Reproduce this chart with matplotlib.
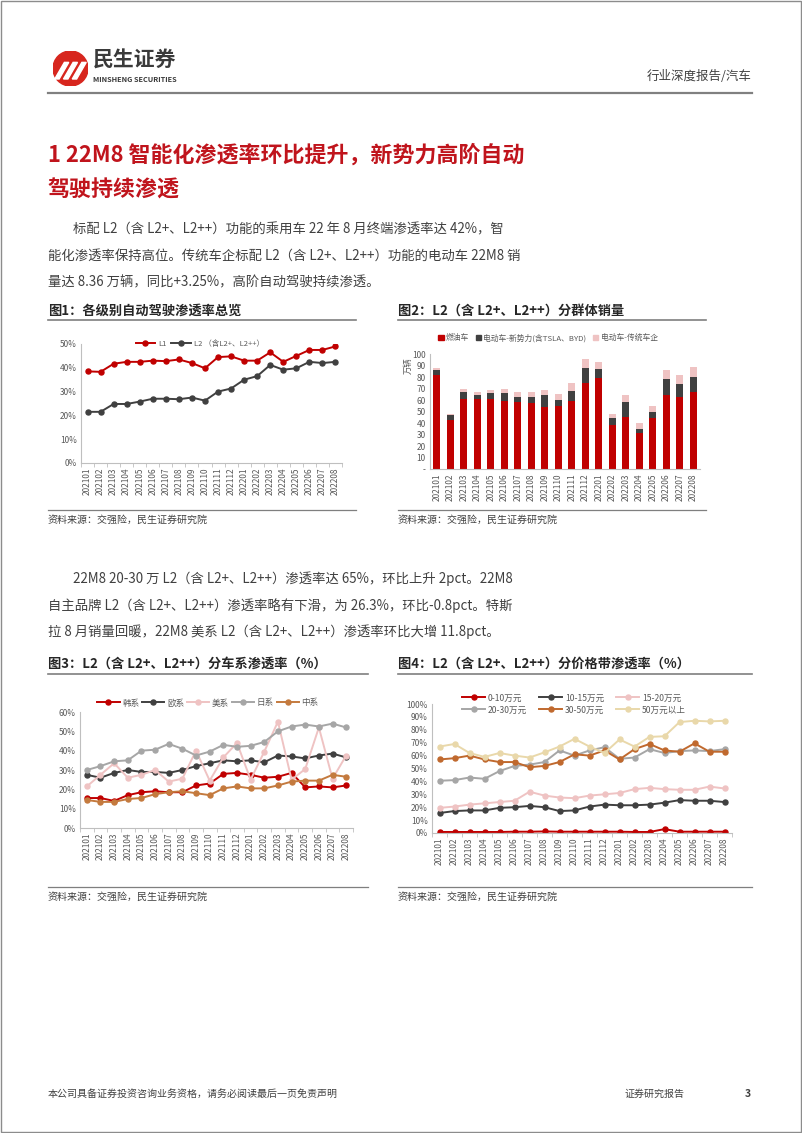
import matplotlib
matplotlib.use('Agg')
import matplotlib.pyplot as plt
from matplotlib.patches import Rectangle, Circle, Polygon, Patch
from matplotlib.lines import Line2D

plt.rcParams['font.family'] = ['Noto Sans CJK SC', 'DejaVu Sans']

W, H = 802, 1133

months = ['202101', '202102', '202103', '202104', '202105', '202106', '202107',
          '202108', '202109', '202110', '202111', '202112', '202201', '202202',
          '202203', '202204', '202205', '202206', '202207', '202208']

# 图1
l1 = [38.5, 38.3, 41.7, 42.5, 42.5, 43.0, 42.8, 43.5, 42.0, 39.8,
      44.5, 44.8, 43.0, 43.0, 46.5, 42.5, 45.0, 47.5, 47.5, 49.0]
l2 = [21.5, 21.5, 24.8, 24.8, 25.8, 27.0, 27.0, 26.8, 27.5, 26.2,
      30.0, 31.3, 35.0, 36.5, 41.2, 39.2, 39.8, 42.5, 42.0, 42.5]

# 图2 (万辆)
fuel = [82, 43, 61, 61, 61, 59, 58, 57, 54, 55, 59, 75, 79, 38, 45, 31, 44, 64, 63, 67]
ev_new = [4, 4, 6, 3, 5, 7, 5, 6, 10, 5, 9, 13, 8, 6, 13, 4, 6, 14, 11, 13]
ev_old = [2, 1, 3, 3, 3, 4, 4, 4, 5, 5, 7, 8, 6, 4, 6, 5, 5, 8, 8, 9]

# 图3
kr = [15.5, 15.5, 14.0, 17.0, 18.5, 19.0, 18.5, 18.5, 22.0, 23.0,
      28.0, 28.5, 27.5, 26.0, 26.5, 28.5, 21.0, 21.5, 21.0, 22.0]
eu = [27.5, 26.0, 28.5, 30.0, 29.0, 29.0, 28.5, 30.0, 32.0, 33.5,
      35.0, 34.5, 35.0, 34.0, 37.5, 37.0, 36.0, 37.5, 38.5, 36.5]
us = [21.5, 27.5, 33.5, 26.0, 27.5, 30.0, 24.0, 25.5, 40.0, 24.5,
      36.5, 44.0, 25.0, 39.5, 55.0, 25.0, 30.5, 52.0, 25.5, 37.5]
jp = [30.0, 32.0, 34.5, 35.0, 40.0, 40.5, 43.5, 41.0, 37.5, 39.5,
      43.0, 42.0, 42.5, 44.5, 50.0, 52.5, 53.5, 52.5, 54.0, 52.0]
cn = [14.5, 13.5, 13.5, 15.0, 15.5, 17.5, 18.5, 19.0, 18.0, 17.0,
      20.5, 21.5, 20.5, 20.5, 22.0, 24.0, 24.5, 24.5, 27.5, 26.5]

# 图4
p0_10 = [0.8, 0.8, 0.8, 0.8, 0.8, 1.0, 1.0, 1.2, 1.0, 1.0,
         1.0, 1.0, 1.0, 0.8, 0.8, 3.0, 1.0, 1.0, 1.0, 1.0]
p10_15 = [15.5, 17.0, 17.5, 17.5, 19.5, 20.0, 21.0, 20.0, 17.0, 17.5,
          20.5, 22.0, 21.5, 21.5, 22.0, 23.5, 25.5, 25.0, 25.0, 24.0]
p15_20 = [19.5, 20.5, 22.0, 23.0, 24.0, 25.0, 32.0, 29.0, 27.5, 27.0,
          29.0, 30.0, 31.0, 34.0, 35.0, 34.0, 33.5, 33.5, 36.0, 34.5]
p20_30 = [40.5, 41.0, 43.0, 42.0, 48.0, 52.0, 53.0, 55.0, 64.0, 60.0,
          64.0, 66.5, 57.5, 58.5, 65.0, 62.0, 63.5, 64.0, 63.5, 65.0]
p30_50 = [57.0, 58.0, 60.0, 57.0, 55.0, 55.0, 51.0, 52.0, 55.0, 61.0,
          60.0, 64.0, 57.0, 65.0, 69.0, 64.0, 63.0, 69.5, 63.0, 63.0]
p50 = [67.0, 69.0, 62.0, 59.0, 62.0, 60.0, 58.5, 62.5, 67.0, 73.0,
       67.0, 62.0, 72.5, 67.0, 74.5, 75.0, 86.0, 87.0, 86.5, 87.0]

RED = '#C00000'
DARK = '#404040'
PINK = '#EFC3C3'
GRAY = '#A6A6A6'
ORANGE = '#C47A3E'
BROWN = '#C0692E'
BEIGE = '#E9D8AA'
TXT = '#595959'

fig = plt.figure(figsize=(W / 100, H / 100), dpi=100)


def ptext(x, y, s, **kw):
    kw.setdefault('va', 'center')
    return fig.text(x / W, 1 - y / H, s, **kw)


def hline(x0, x1, y, color='#808080', lw=1.0):
    fig.add_artist(Line2D([x0 / W, x1 / W], [1 - y / H, 1 - y / H], color=color, lw=lw))


def ax_px(x0, y0, x1, y1):
    return fig.add_axes([x0 / W, 1 - y1 / H, (x1 - x0) / W, (y1 - y0) / H])


def style_axis(ax, ymax, step, pct=True, dash_zero=False):
    x = list(range(len(months)))
    ax.set_xlim(-0.5, len(months) - 0.5)
    ax.set_ylim(0, ymax)
    ax.set_xticks(x)
    ax.set_xticklabels(months, rotation=90, fontsize=6, color=TXT)
    ax.set_xticks([i - 0.5 for i in range(len(months) + 1)], minor=True)
    ax.tick_params(axis='x', which='major', length=0, pad=3)
    ax.tick_params(axis='x', which='minor', length=3, color='#BFBFBF')
    ticks = list(range(0, ymax + 1, step))
    ax.set_yticks(ticks)
    if pct:
        ax.set_yticklabels(['%d%%' % t for t in ticks])
    elif dash_zero:
        ax.set_yticklabels(['-'] + [str(t) for t in ticks[1:]])
    ax.tick_params(axis='y', length=0, labelsize=6, labelcolor=TXT, pad=3)
    for s in ['top', 'right']:
        ax.spines[s].set_visible(False)
    for s in ['left', 'bottom']:
        ax.spines[s].set_color('#BFBFBF')
        ax.spines[s].set_linewidth(0.8)


# page frame
fig.add_artist(Rectangle((0.001, 0.001), 0.998, 0.998, transform=fig.transFigure,
                         fill=False, edgecolor='#8C8C8C', lw=1.0))

# logo
lax = ax_px(53, 51, 88, 86)
lax.set_xlim(-1, 1)
lax.set_ylim(-1, 1)
lax.set_aspect('equal')
lax.axis('off')
lax.add_patch(Circle((0, 0), 1, color='#D7261E'))
for dx in [-0.55, -0.05, 0.45]:
    lax.add_patch(Polygon([[dx - 0.35, -0.6], [dx - 0.1, -0.6], [dx + 0.45, 0.35], [dx + 0.2, 0.35]],
                          closed=True, color='white'))
ptext(93, 60, '民生证券', fontsize=15, fontweight='bold', color='#3A3A3A')
ptext(93, 79, 'MINSHENG SECURITIES', fontsize=5.3, fontweight='bold', color='#3A3A3A')
ptext(752, 77, '行业深度报告/汽车', fontsize=9, color='#404040', ha='right')
hline(48, 752, 93, color='#808080', lw=1.6)

# section title
ptext(48, 155, '1 22M8 智能化渗透率环比提升，新势力高阶自动', fontsize=15.8, fontweight='bold', color='#C0141C')
ptext(48, 190, '驾驶持续渗透', fontsize=15.8, fontweight='bold', color='#C0141C')

body1 = ['标配 L2（含 L2+、L2++）功能的乘用车 22 年 8 月终端渗透率达 42%，智',
         '能化渗透率保持高位。传统车企标配 L2（含 L2+、L2++）功能的电动车 22M8 销',
         '量达 8.36 万辆，同比+3.25%，高阶自动驾驶持续渗透。']
for i, s in enumerate(body1):
    ptext(73 if i == 0 else 48, 229 + 26.5 * i, s, fontsize=9.6, color='#404040')

body2 = ['22M8 20-30 万 L2（含 L2+、L2++）渗透率达 65%，环比上升 2pct。22M8',
         '自主品牌 L2（含 L2+、L2++）渗透率略有下滑，为 26.3%，环比-0.8pct。特斯',
         '拉 8 月销量回暖，22M8 美系 L2（含 L2+、L2++）渗透率环比大增 11.8pct。']
for i, s in enumerate(body2):
    ptext(73 if i == 0 else 48, 579 + 26.5 * i, s, fontsize=9.6, color='#404040')

# figure titles, rules and sources
ptext(48, 311, '图1：各级别自动驾驶渗透率总览', fontsize=9.5, fontweight='bold', color='#262626')
ptext(398, 311, '图2：L2（含 L2+、L2++）分群体销量', fontsize=9.5, fontweight='bold', color='#262626')
ptext(48, 664, '图3：L2（含 L2+、L2++）分车系渗透率（%）', fontsize=9.5, fontweight='bold', color='#262626')
ptext(398, 664, '图4：L2（含 L2+、L2++）分价格带渗透率（%）', fontsize=9.5, fontweight='bold', color='#262626')
hline(48, 356, 320, color='#7F7F7F', lw=1.2)
hline(398, 706, 320, color='#7F7F7F', lw=1.2)
hline(48, 368, 674, color='#7F7F7F', lw=1.2)
hline(398, 752, 674, color='#7F7F7F', lw=1.2)
hline(48, 356, 510, color='#7F7F7F', lw=0.9)
hline(398, 706, 510, color='#7F7F7F', lw=0.9)
hline(48, 368, 887, color='#7F7F7F', lw=0.9)
hline(398, 752, 887, color='#7F7F7F', lw=0.9)
for x0, y0 in [(48, 520), (398, 520), (48, 897), (398, 897)]:
    ptext(x0, y0, '资料来源：交强险，民生证券研究院', fontsize=7.2, color='#404040')

x = list(range(len(months)))
lw = 1.4
ms = 3.6

# chart 1
ax1 = ax_px(81, 344, 342, 463)
style_axis(ax1, 50, 10)
a, = ax1.plot(x, l1, color=RED, lw=lw, marker='o', ms=ms, label='L1')
b, = ax1.plot(x, l2, color=DARK, lw=lw, marker='o', ms=ms, label='L2 （含L2+、L2++）')
ax1.legend(handles=[a, b], loc='center', bbox_to_anchor=(200 / W, 1 - 344 / H),
           bbox_transform=fig.transFigure, ncol=2, frameon=False, fontsize=5.5,
           handlelength=2.6, columnspacing=0.6, handletextpad=0.4, labelcolor=TXT)

# chart 2
ax2 = ax_px(430, 354, 700, 469)
style_axis(ax2, 100, 10, pct=False, dash_zero=True)
ax2.tick_params(axis='x', which='minor', length=0)
bw = 0.55
ax2.bar(x, fuel, bw, color=RED)
ax2.bar(x, ev_new, bw, bottom=fuel, color=DARK)
bot = [f + e for f, e in zip(fuel, ev_new)]
ax2.bar(x, ev_old, bw, bottom=bot, color=PINK)
ptext(408, 366, '万辆', fontsize=6, color=TXT, rotation=90, ha='center')
hs = [Patch(color=RED, label='燃油车'), Patch(color=DARK, label='电动车-新势力(含TSLA、BYD)'),
      Patch(color=PINK, label='电动车-传统车企')]
ax2.legend(handles=hs, loc='center', bbox_to_anchor=(548 / W, 1 - 338 / H),
           bbox_transform=fig.transFigure, ncol=3, frameon=False, fontsize=5.6,
           handlelength=0.7, handleheight=0.7, columnspacing=0.8, handletextpad=0.3,
           labelcolor=TXT)

# chart 3
ax3 = ax_px(80, 712, 353, 828)
style_axis(ax3, 60, 10)
h3 = []
for vals, col, lab in [(kr, RED, '韩系'), (eu, DARK, '欧系'), (us, PINK, '美系'),
                       (jp, GRAY, '日系'), (cn, ORANGE, '中系')]:
    ln, = ax3.plot(x, vals, color=col, lw=lw, marker='o', ms=ms, label=lab)
    h3.append(ln)
ax3.legend(handles=h3, loc='center', bbox_to_anchor=(208 / W, 1 - 703 / H),
           bbox_transform=fig.transFigure, ncol=5, frameon=False, fontsize=6.2,
           handlelength=2.6, columnspacing=0.3, handletextpad=0.3, labelcolor=TXT)

# chart 4
ax4 = ax_px(432, 704, 732, 833)
style_axis(ax4, 100, 10)
h4 = []
for vals, col, lab in [(p0_10, RED, '0-10万元'), (p10_15, DARK, '10-15万元'),
                       (p15_20, PINK, '15-20万元'), (p20_30, GRAY, '20-30万元'),
                       (p30_50, BROWN, '30-50万元'), (p50, BEIGE, '50万元以上')]:
    ln, = ax4.plot(x, vals, color=col, lw=lw, marker='o', ms=ms, label=lab)
    h4.append(ln)
order = [0, 3, 1, 4, 2, 5]
ax4.legend(handles=[h4[i] for i in order], loc='center', bbox_to_anchor=(574 / W, 1 - 704 / H),
           bbox_transform=fig.transFigure, ncol=3, frameon=False, fontsize=6.2,
           handlelength=2.7, columnspacing=1.4, handletextpad=0.3, labelspacing=0.35,
           labelcolor=TXT)

# footer
ptext(48, 1094, '本公司具备证券投资咨询业务资格，请务必阅读最后一页免责声明', fontsize=7.2, color='#404040')
ptext(625, 1094, '证券研究报告', fontsize=7.2, color='#404040')
ptext(745, 1094, '3', fontsize=7.5, color='#404040', fontweight='bold')

fig.savefig('out.png', dpi=100)
